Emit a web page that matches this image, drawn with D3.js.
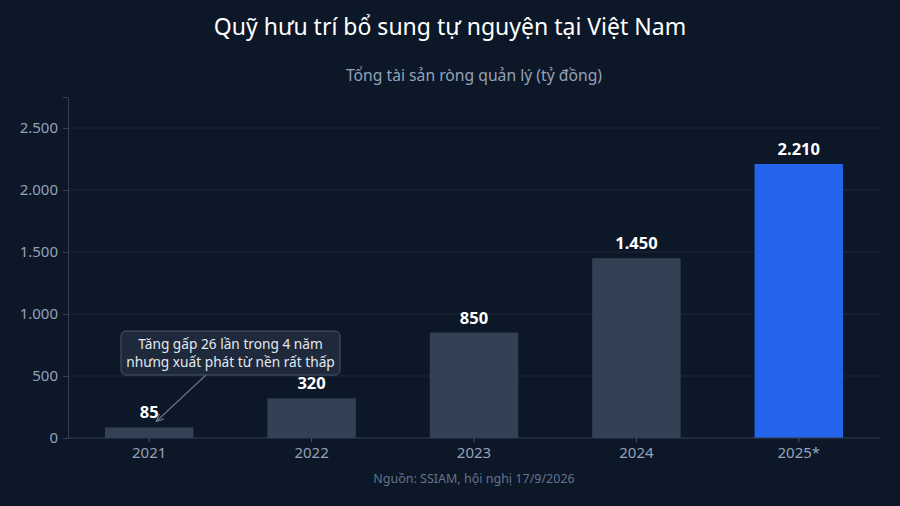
<!DOCTYPE html>
<html><head><meta charset="utf-8">
<script src="https://cdn.jsdelivr.net/npm/d3@7"></script>
<style>
html,body{margin:0;padding:0;background:#0c1728;}
svg{display:block;font-family:"Noto Sans",sans-serif;}
</style></head>
<body>
<svg id="c" width="900" height="506"></svg>
<script>
const categories = ["2021","2022","2023","2024","2025*"];
const values = [85, 320, 850, 1450, 2210];
const highlight = ["2025*"];
const yTicks = [0, 500, 1000, 1500, 2000, 2500];
const titleText = "Quỹ hưu trí bổ sung tự nguyện tại Việt Nam";
const subtitleText = "Tổng tài sản ròng quản lý (tỷ đồng)";
const sourceText = "Nguồn: SSIAM, hội nghị 17/9/2026";
const noteLines = ["Tăng gấp 26 lần trong 4 năm", "nhưng xuất phát từ nền rất thấp"];

const svg = d3.select("#c");
const W = 900, H = 506;
const m = {left: 68, right: 20, top: 97, bottom: 68};
const cx = (m.left + W - m.right) / 2;
const fmt = d3.formatLocale({decimal: ",", thousands: ".", grouping: [3], currency: ["", ""]}).format(",");

svg.append("rect").attr("width", W).attr("height", H).attr("fill", "#0c1728");

const x = d3.scaleBand().domain(categories).range([m.left, W - m.right]).paddingInner(0.455).paddingOuter(0.2275);
const y = d3.scaleLinear().domain([0, 2750]).range([H - m.bottom, m.top]);

// grid
svg.append("g").selectAll("line").data(yTicks.filter(d => d > 0)).join("line")
  .attr("x1", m.left).attr("x2", W - m.right)
  .attr("y1", d => y(d)).attr("y2", d => y(d))
  .attr("stroke", "#1c2839").attr("stroke-width", 1);

// y axis
const ya = svg.append("g").attr("transform", `translate(${m.left},0)`)
  .call(d3.axisLeft(y).tickValues(yTicks).tickFormat(d => fmt(d)).tickSize(5).tickPadding(5));
ya.select(".domain").attr("stroke", "#334155");
ya.selectAll(".tick line").attr("stroke", "#334155");
ya.selectAll("text").attr("fill", "#94a3b8").attr("font-size", 15).attr("font-family", "Noto Sans");

// bars
svg.append("g").selectAll("rect").data(categories).join("rect")
  .attr("x", d => x(d)).attr("width", x.bandwidth())
  .attr("y", (d, i) => y(values[i])).attr("height", (d, i) => y(0) - y(values[i]))
  .attr("fill", d => highlight.includes(d) ? "#2563eb" : "#334155");

// x axis
const xa = svg.append("g").attr("transform", `translate(0,${y(0)})`)
  .call(d3.axisBottom(x).tickSize(4).tickPadding(5));
xa.select(".domain").attr("stroke", "#334155").attr("d", `M${m.left},0H${W - m.right}`);
xa.selectAll(".tick line").attr("stroke", "#475569");
xa.selectAll("text").attr("fill", "#94a3b8").attr("font-size", 15).attr("font-family", "Noto Sans");

// value labels
svg.append("g").selectAll("text").data(categories).join("text")
  .attr("x", d => x(d) + x.bandwidth() / 2)
  .attr("y", (d, i) => y(values[i]) - 9)
  .attr("text-anchor", "middle").attr("fill", "#ffffff")
  .attr("font-size", 16.5).attr("font-weight", "bold")
  .text((d, i) => fmt(values[i]));

// title
svg.append("text").attr("x", W / 2).attr("y", 35).attr("text-anchor", "middle")
  .attr("fill", "#ffffff").attr("font-size", 23).text(titleText);
svg.append("text").attr("x", cx).attr("y", 81).attr("text-anchor", "middle")
  .attr("fill", "#94a3b8").attr("font-size", 15.7).text(subtitleText);
svg.append("text").attr("x", cx).attr("y", 483).attr("text-anchor", "middle")
  .attr("fill", "#64748b").attr("font-size", 12.5).text(sourceText);

// annotation
const defs = svg.append("defs");
defs.append("marker").attr("id", "ah").attr("viewBox", "0 0 10 10").attr("refX", 9).attr("refY", 5)
  .attr("markerWidth", 7).attr("markerHeight", 7).attr("orient", "auto")
  .append("path").attr("d", "M0,1L9,5L0,9").attr("fill", "none").attr("stroke", "#64748b").attr("stroke-width", 1.5);

const bx = x("2021") + x.bandwidth() / 2, by = y(values[0]) - 6;
const boxX = 121, boxY = 331, boxW = 219, boxH = 44;
svg.append("line").attr("x1", 206).attr("y1", boxY + boxH).attr("x2", bx + 7).attr("y2", by)
  .attr("stroke", "#64748b").attr("stroke-width", 1.2).attr("marker-end", "url(#ah)");
svg.append("rect").attr("x", boxX).attr("y", boxY).attr("width", boxW).attr("height", boxH)
  .attr("rx", 5).attr("fill", "#1e293b").attr("stroke", "#475569").attr("stroke-width", 1);
svg.append("text").attr("x", boxX + boxW / 2).attr("y", boxY + 18).attr("text-anchor", "middle")
  .attr("fill", "#e2e8f0").attr("font-size", 13.7)
  .selectAll("tspan").data(noteLines).join("tspan")
  .attr("x", boxX + boxW / 2).attr("dy", (d, i) => i ? 18 : 0).text(d => d);
</script>
</body></html>
